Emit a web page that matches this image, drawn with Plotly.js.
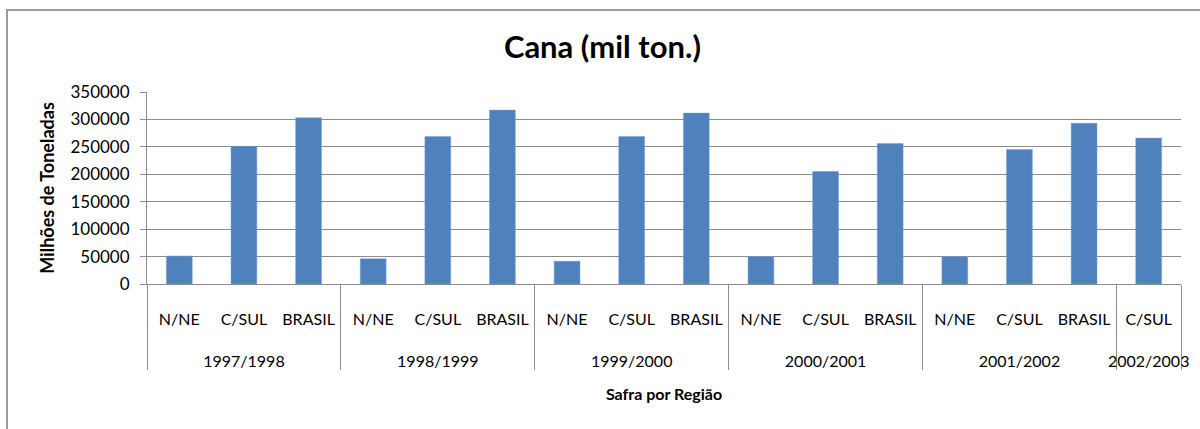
<!DOCTYPE html>
<html>
<head>
<meta charset="utf-8">
<script src="https://cdn.plot.ly/plotly-3.0.1.min.js"></script>
<style>
  html, body { margin: 0; padding: 0; background: #fff; }
  #chart { width: 1200px; height: 429px; }
  #frame { position: absolute; left: 6px; top: 9px; width: 1300px; height: 500px; border: 1px solid #9a9a9a; border-width: 2px 0 0 2px; pointer-events: none; }
</style>
</head>
<body>
<div id="chart"></div>
<div id="frame"></div>
<script>
const safras = ["1997/1998","1997/1998","1997/1998","1998/1999","1998/1999","1998/1999","1999/2000","1999/2000","1999/2000","2000/2001","2000/2001","2000/2001","2001/2002","2001/2002","2001/2002","2002/2003"];
const regioes = ["N/NE","C/SUL","BRASIL","N/NE","C/SUL","BRASIL","N/NE","C/SUL","BRASIL","N/NE","C/SUL","BRASIL","N/NE","C/SUL","BRASIL","C/SUL"];
const cana = [51000, 251000, 303000, 46000, 269000, 317000, 41500, 269000, 311500, 50000, 205000, 256000, 50000, 245000, 293000, 266000];

const FONT = "Lato, 'Open Sans', sans-serif";
// leading line breaks only space the two label levels like the original
const lvl2 = safras.map(s => "<br><br>" + s);
const lvl1 = regioes.map(r => "<br>" + r);

const trace = {
  type: "bar",
  x: [lvl2, lvl1],
  y: cana,
  marker: { color: "#4F81BD", line: { color: "#7aa0d4", width: 0.5 } },
  hoverinfo: "skip"
};
const layout = {
  width: 1200, height: 429,
  margin: { l: 147, r: 19, t: 92, b: 145 },
  paper_bgcolor: "#ffffff", plot_bgcolor: "#ffffff",
  bargap: 0.6,
  showlegend: false,
  font: { family: FONT, color: "#000", size: 16 },
  title: { text: "<b>Cana (mil ton.)</b>", font: { family: FONT, size: 31, color: "#000" }, x: 0.502, xanchor: "center", y: 0.89, yanchor: "middle" },
  xaxis: {
    type: "multicategory",
    showline: true, linecolor: "#8c8c8c", linewidth: 1,
    ticks: "", showgrid: false,
    showdividers: true, dividercolor: "#8c8c8c", dividerwidth: 1,
    tickfont: { family: FONT, size: 16, color: "#000" },
    title: { text: "<b>Safra por Região</b>", font: { family: FONT, size: 16, color: "#000" }, standoff: 20 }
  },
  yaxis: {
    range: [0, 350000], dtick: 50000, tick0: 0, tickformat: "d",
    showline: true, linecolor: "#8c8c8c", linewidth: 1,
    ticks: "outside", ticklen: 6, tickcolor: "#8c8c8c",
    ticklabelstandoff: 7,
    showgrid: true, gridcolor: "#8c8c8c", gridwidth: 1,
    zeroline: false,
    tickfont: { family: FONT, size: 17, color: "#000" },
    title: { text: "<b>Milhões de Toneladas</b>", font: { family: FONT, size: 18, color: "#000" }, standoff: 11 }
  }
};
Plotly.newPlot("chart", [trace], layout, { displayModeBar: false, staticPlot: true });
</script>
</body>
</html>
